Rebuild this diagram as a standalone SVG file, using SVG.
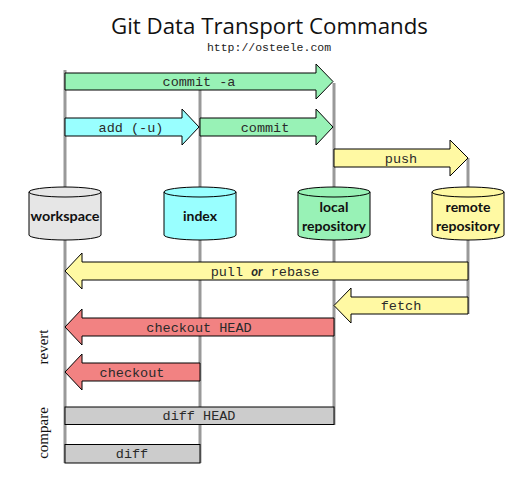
<svg xmlns="http://www.w3.org/2000/svg" width="526" height="479" viewBox="0 0 526 479">
<style>
.bg{fill:#ffffff}
.lane{stroke:#999999;stroke-width:3;fill:none}
.arr{stroke:#000;stroke-width:1;stroke-linejoin:miter}
.green{fill:#98f2b6}
.cyan{fill:#99ffff}
.yellow{fill:#fff9a3}
.red{fill:#f28282}
.gray{fill:#cccccc}
.ws{fill:#e6e6e6}
.cmd{font-family:"Liberation Mono","Courier New",monospace;font-size:13.5px;fill:#2a2a2a;text-anchor:middle}
.cyl{font-family:"Lato","Noto Sans",sans-serif;font-weight:bold;font-size:14px;fill:#111;text-anchor:middle}
.side{font-family:"Liberation Serif","Times New Roman",serif;font-size:15px;fill:#111;text-anchor:middle}
.cylshape{stroke:#000;stroke-width:1}
</style>
<rect class="bg" x="0" y="0" width="526" height="479"/>
<text x="269.5" y="34" font-family="'Open Sans','Noto Sans',sans-serif" font-size="22" fill="#111" text-anchor="middle" textLength="317" lengthAdjust="spacingAndGlyphs">Git Data Transport Commands</text>
<text x="269" y="51" font-family="'Liberation Mono','Courier New',monospace" font-size="11.5" fill="#222" text-anchor="middle">http://osteele.com</text>

<g id="lanes">
<line class="lane" x1="65" y1="70" x2="65" y2="463"/>
<line class="lane" x1="200" y1="90" x2="200" y2="463"/>
<line class="lane" x1="334" y1="83" x2="334" y2="425"/>
<line class="lane" x1="468" y1="158" x2="468" y2="314"/>
</g>

<g id="connectors">
<g id="commit-a">
<polygon class="arr green" points="65,73 316,73 316,64 333,81.5 316,99 316,90 65,90"/>
<text class="cmd" x="199" y="86">commit -a</text>
</g>
<g id="add">
<polygon class="arr cyan" points="65,118 182,118 182,109 199,127 182,145 182,136 65,136"/>
<text class="cmd" x="131" y="131.5">add (-u)</text>
</g>
<g id="commit">
<polygon class="arr green" points="200,118 316,118 316,109 333,127 316,145 316,136 200,136"/>
<text class="cmd" x="265" y="131.5">commit</text>
</g>
<g id="push">
<polygon class="arr yellow" points="334,149 450,149 450,140 468,158 450,176 450,167 334,167"/>
<text class="cmd" x="401" y="162.5">push</text>
</g>
<g id="pull">
<polygon class="arr yellow" points="468,262 82,262 82,253 65,271 82,289 82,280 468,280"/>
<text class="cmd" x="265" y="275.5">pull <tspan font-family="'Lato','Noto Sans',sans-serif" font-style="italic" font-weight="bold" font-size="13">or</tspan> rebase</text>
</g>
<g id="fetch">
<polygon class="arr yellow" points="468,297 351,297 351,288 334,305.5 351,323 351,314 468,314"/>
<text class="cmd" x="401" y="310">fetch</text>
</g>
<g id="checkout-head">
<polygon class="arr red" points="334,318 82,318 82,309 65,327 82,345 82,336 334,336"/>
<text class="cmd" x="199" y="331.5">checkout HEAD</text>
</g>
<g id="checkout">
<polygon class="arr red" points="200,363 82,363 82,354 65,372 82,390 82,381 200,381"/>
<text class="cmd" x="132" y="376.5">checkout</text>
</g>
<g id="diff-head">
<rect class="arr gray" x="65" y="407" width="269" height="17.5"/>
<text class="cmd" x="199" y="420">diff HEAD</text>
</g>
<g id="diff">
<rect class="arr gray" x="65" y="444.5" width="135" height="18.5"/>
<text class="cmd" x="132" y="458">diff</text>
</g>
</g>

<g id="workspace">
<path class="cylshape ws" d="M29,192 A36,5 0 0 1 101,192 L101,235 A36,5 0 0 1 29,235 Z"/>
<path class="cylshape" fill="none" d="M29,192 A36,5 0 0 0 101,192"/>
<text class="cyl" x="65" y="221" textLength="69" lengthAdjust="spacingAndGlyphs">workspace</text>
</g>
<g id="index">
<path class="cylshape cyan" d="M164,192 A36,5 0 0 1 236,192 L236,235 A36,5 0 0 1 164,235 Z"/>
<path class="cylshape" fill="none" d="M164,192 A36,5 0 0 0 236,192"/>
<text class="cyl" x="200" y="221">index</text>
</g>
<g id="local-repository">
<path class="cylshape green" d="M298,192 A36,5 0 0 1 370,192 L370,235 A36,5 0 0 1 298,235 Z"/>
<path class="cylshape" fill="none" d="M298,192 A36,5 0 0 0 370,192"/>
<text class="cyl" x="334" y="212">local</text>
<text class="cyl" x="334" y="231" textLength="64" lengthAdjust="spacingAndGlyphs">repository</text>
</g>
<g id="remote-repository">
<path class="cylshape yellow" d="M432,192 A36,5 0 0 1 504,192 L504,235 A36,5 0 0 1 432,235 Z"/>
<path class="cylshape" fill="none" d="M432,192 A36,5 0 0 0 504,192"/>
<text class="cyl" x="468" y="212">remote</text>
<text class="cyl" x="468" y="231" textLength="64" lengthAdjust="spacingAndGlyphs">repository</text>
</g>

<text class="side" transform="translate(48,347) rotate(-90)">revert</text>
<text class="side" transform="translate(48,433) rotate(-90)">compare</text>
</svg>
